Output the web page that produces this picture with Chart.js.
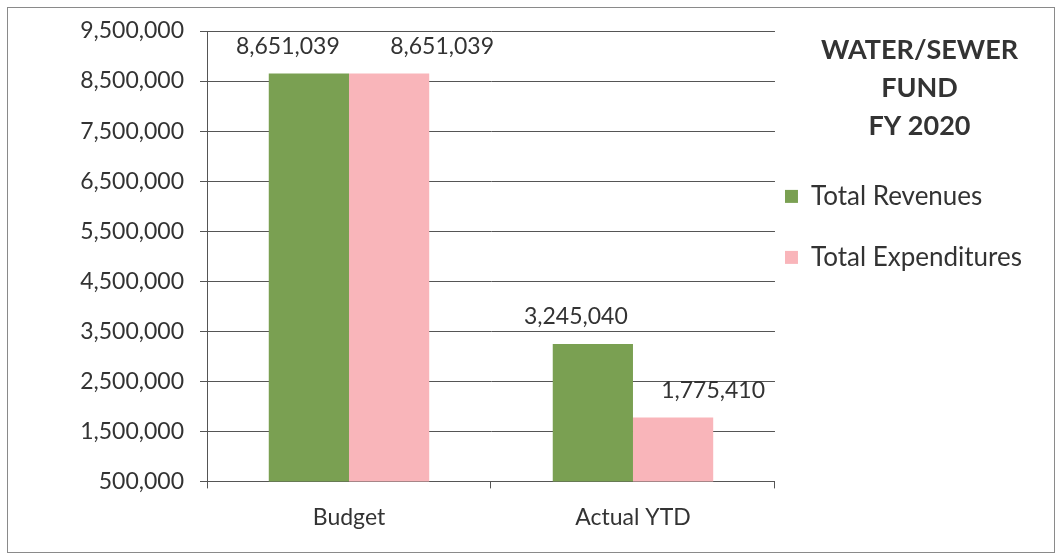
<!DOCTYPE html>
<html>
<head>
<meta charset="utf-8">
<script src="https://cdn.jsdelivr.net/npm/chart.js@4/dist/chart.umd.min.js"></script>
<style>
  body { margin: 0; background: #fff; }
  .wrap { position: relative; width: 1060px; height: 554px; }
  .frame { position: absolute; left: 7px; top: 7px; width: 1046px; height: 544px; border: 1px solid #8a8a8a; pointer-events: none; }
</style>
</head>
<body>
<div class="wrap">
  <canvas id="myChart" width="1060" height="554"></canvas>
  <div class="frame"></div>
</div>
<script>
const categories = ['Budget', 'Actual YTD']
const revenues = [8651039, 3245040]
const expenditures = [8651039, 1775410]
const seriesNames = ['Total Revenues', 'Total Expenditures']
const titleLines = ['WATER/SEWER', 'FUND', 'FY 2020']
const yMin = 500000
const yMax = 9500000
const yStep = 1000000

const textColor = '#333'
const fontFamily = 'Lato, "Open Sans", sans-serif'

const fmt = (v) => v.toLocaleString('en-US')

// the labels in the original are nudged sideways so they don't collide
const labelShift = [[-21, -17], [53, 40]]

// value labels above each bar
const barLabels = {
  id: 'barLabels',
  afterDatasetsDraw(chart) {
    const ctx = chart.ctx
    ctx.save()
    ctx.font = '23px ' + fontFamily
    ctx.fillStyle = textColor
    ctx.textAlign = 'center'
    ctx.textBaseline = 'middle'
    chart.data.datasets.forEach((ds, i) => {
      chart.getDatasetMeta(i).data.forEach((bar, j) => {
        ctx.fillText(fmt(ds.data[j]), bar.x + labelShift[i][j], bar.y - 27)
      })
    })
    ctx.restore()
  }
}

// legend heading, centred over the legend items
const legendHeading = {
  id: 'legendHeading',
  afterDraw(chart) {
    const legend = chart.legend
    const boxes = legend.legendHitBoxes
    if (!boxes.length) return
    const cx = boxes[0].left + boxes.reduce((m, b) => Math.max(m, b.width), 0) / 2 + 16
    const ctx = chart.ctx
    ctx.save()
    ctx.font = 'bold 27px ' + fontFamily
    ctx.fillStyle = textColor
    ctx.textAlign = 'center'
    ctx.textBaseline = 'middle'
    titleLines.forEach((line, i) => {
      ctx.fillText(line, cx, 50 + i * 38)
    })
    ctx.restore()
  }
}

function renderChart(){
  const ctx = document.getElementById('myChart').getContext('2d')

  const chart = new Chart(ctx, {
    type: 'bar',
    data: {
      labels: categories,
      datasets: [
        {
          label: seriesNames[0],
          data: revenues,
          backgroundColor: 'rgb(122, 160, 82)',
          categoryPercentage: 0.565,
          barPercentage: 1.0
        },
        {
          label: seriesNames[1],
          data: expenditures,
          backgroundColor: 'rgb(249, 181, 186)',
          categoryPercentage: 0.565,
          barPercentage: 1.0
        }
      ]
    },
    options: {
      responsive: false,
      animation: false,
      layout: {
        padding: { left: 0, right: 28, top: 31, bottom: 8 }
      },
      scales: {
        x: {
          grid: {
            drawOnChartArea: false,
            drawTicks: true,
            tickLength: 7,
            color: '#555'
          },
          border: { color: '#555', width: 1 },
          ticks: {
            color: textColor,
            padding: 15,
            font: { family: fontFamily, size: 23 }
          }
        },
        y: {
          min: yMin,
          max: yMax,
          afterFit: (scale) => { scale.width = 207 },
          grid: {
            color: '#555',
            lineWidth: 1,
            tickLength: 7
          },
          border: { color: '#555', width: 1 },
          ticks: {
            stepSize: yStep,
            color: textColor,
            padding: 16,
            font: { family: fontFamily, size: 23 },
            callback: (v) => fmt(v)
          }
        }
      },
      plugins: {
        tooltip: { enabled: false },
        legend: {
          position: 'right',
          align: 'start',
          title: {
            display: true,
            text: '',
            padding: { top: 128, bottom: 0 }
          },
          labels: {
            color: textColor,
            boxWidth: 13,
            boxHeight: 13,
            padding: 10,
            font: { family: fontFamily, size: 26, lineHeight: '51px' },
            // single-line arrays so the taller line height spaces the items
            generateLabels: (chart) => {
              const items = Chart.defaults.plugins.legend.labels.generateLabels(chart)
              items.forEach((item) => { item.text = [item.text] })
              return items
            }
          }
        }
      }
    },
    plugins: [barLabels, legendHeading]
  })

  return chart
}

Promise.all([
  document.fonts.load('23px Lato'),
  document.fonts.load('bold 27px Lato')
]).then(renderChart).catch((err) => {
  console.log(err)
  renderChart()
})
</script>
</body>
</html>
